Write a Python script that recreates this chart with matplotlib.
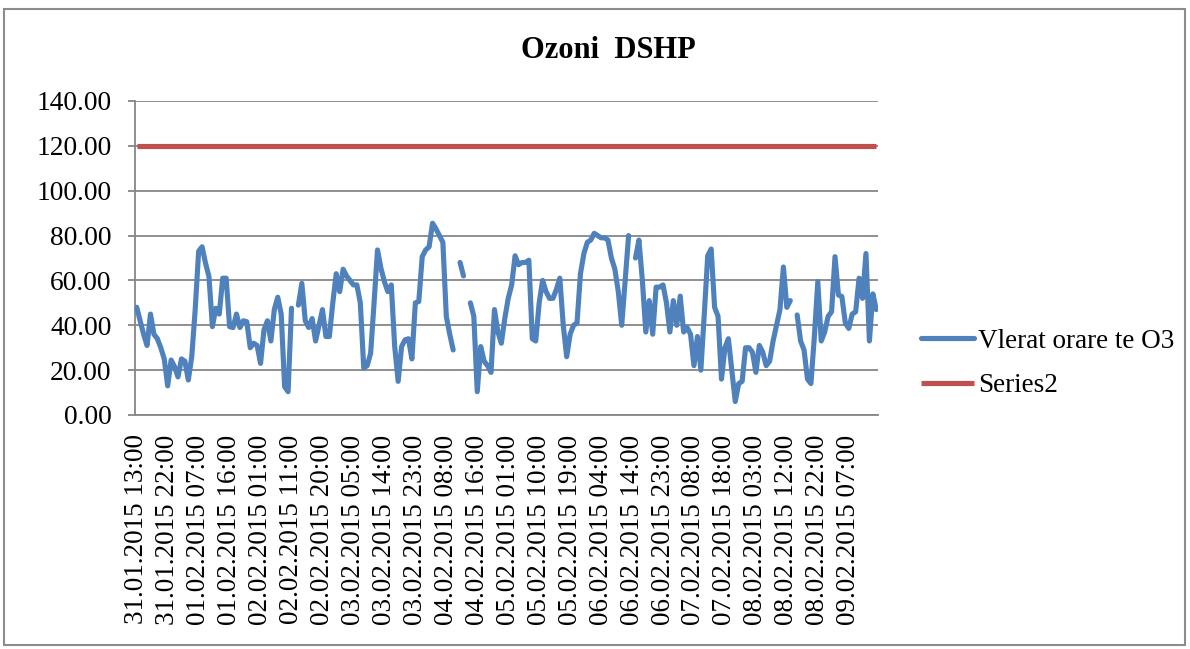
import matplotlib
matplotlib.use("Agg")
import matplotlib.pyplot as plt
import numpy as np
from matplotlib.patches import Rectangle

plt.rcParams['font.family'] = ['Liberation Serif', 'DejaVu Serif']

title = "Ozoni  DSHP"
series1_name = "Vlerat orare te O3"
series2_name = "Series2"
limit_value = 120.0

tick_labels = [
    "31.01.2015 13:00", "31.01.2015 22:00", "01.02.2015 07:00", "01.02.2015 16:00",
    "02.02.2015 01:00", "02.02.2015 11:00", "02.02.2015 20:00", "03.02.2015 05:00",
    "03.02.2015 14:00", "03.02.2015 23:00", "04.02.2015 08:00", "04.02.2015 16:00",
    "05.02.2015 01:00", "05.02.2015 10:00", "05.02.2015 19:00", "06.02.2015 04:00",
    "06.02.2015 14:00", "06.02.2015 23:00", "07.02.2015 08:00", "07.02.2015 18:00",
    "08.02.2015 03:00", "08.02.2015 12:00", "08.02.2015 22:00", "09.02.2015 07:00",
]
tick_every = 9

o3_values = [
    48, 42, 36, 31, 45, 36, 34, 30, 25, 13,
    24.5, 21.5, 17, 25, 24, 15.6, 26, 47, 73, 75,
    67.7, 61.7, 39.4, 47.6, 45, 61, 61, 39.4, 39, 45,
    39, 42, 41.6, 30, 32, 31, 23, 38, 42, 33,
    47, 52.5, 45, 12.6, 10.4, 47.6, None, 49, 58.7, 42,
    39, 43, 33, 40, 47, 35, 35, 50, 63, 55,
    65, 62, 60, 58, 58, 50, 21, 22, 27.5, 50,
    73.6, 65.4, 59.5, 55, 58, 30.5, 15, 30.5, 33.5, 34,
    25, 50, 50.6, 70.6, 73.6, 75, 85.5, 83, 80, 77,
    44, 36, 29, None, 68, 62, None, 50, 44, 10.4,
    30.5, 24, 22, 19, 47, 37, 32, 43, 52, 58,
    71, 67, 68, 68, 69, 34, 33, 50, 60, 55,
    52, 52, 56, 61, 40, 26, 36, 40, 41, 63,
    72, 77, 78, 81, 80, 79, 79, 78, 70, 65,
    55, 40, 60, 80, None, 70, 78, 60, 37, 51,
    36, 57, 57, 58, 50, 37, 51, 40, 53, 37,
    39, 36, 22, 35, 20, 45, 71, 74, 48, 44,
    16, 30, 34, 20, 6, 14, 15, 30, 30, 28,
    19, 31, 28, 22, 24, 33, 40, 47, 66, 48,
    51, None, 44.6, 33, 29, 16, 14, 35, 59.5, 33,
    37, 44, 46, 70.6, 53.5, 52.8, 41, 38.6, 45, 46,
    61, 52, 72, 33, 54, 47,
]

n = len(o3_values)
x = np.arange(n)
y1 = np.array([np.nan if v is None else v for v in o3_values], dtype=float)
y2 = np.full(n, limit_value)

fig = plt.figure(figsize=(11.9, 6.49), dpi=100)
W, H = 1190, 649
ax = fig.add_axes([135 / W, 1 - 415 / H, (878 - 135) / W, (415 - 101) / H])

blue = "#4F81BD"
red = "#C0504D"
grid_c = "#868686"

ax.plot(x, y1, color=blue, lw=3.7, solid_joinstyle='round', solid_capstyle='round',
        label=series1_name, zorder=3)
ax.plot(x, y2, color=red, lw=3.7, solid_capstyle='butt', label=series2_name, zorder=3)

ax.set_xlim(-0.5, n - 0.5)
ax.set_ylim(0, 140)
ax.set_yticks(np.arange(0, 141, 20))
ax.set_yticklabels([f"{v:.2f}" for v in np.arange(0, 141, 20)], fontsize=19.8)
ax.yaxis.grid(True, color=grid_c, lw=1.3)
ax.set_axisbelow(True)

ax.set_xticks(np.arange(0, tick_every * len(tick_labels), tick_every))
ax.set_xticklabels(tick_labels, rotation=90, fontsize=19.5, va='top', ha='center')
ax.tick_params(axis='x', length=0, pad=14)
ax.tick_params(axis='y', length=5, color=grid_c, width=1.3, pad=12)

for s in ['top', 'right']:
    ax.spines[s].set_visible(False)
for s in ['left', 'bottom']:
    ax.spines[s].set_color(grid_c)
    ax.spines[s].set_linewidth(1.3)

fig.text(608 / W, 1 - 50 / H, title, fontsize=22, fontweight='bold',
         ha='center', va='center')

leg = fig.legend(loc='upper left', bbox_to_anchor=(910 / W, 1 - 318 / H),
                 frameon=False, fontsize=19.5, handlelength=1.95, handletextpad=0.15,
                 labelspacing=0.72, borderaxespad=0)

fig.patches.append(Rectangle((4 / W, 1 - 645 / H), (1185 - 4) / W, (645 - 9) / H,
                             transform=fig.transFigure, fill=False,
                             edgecolor="#8C8C8C", lw=1.5))

fig.savefig("out.png", dpi=100)
